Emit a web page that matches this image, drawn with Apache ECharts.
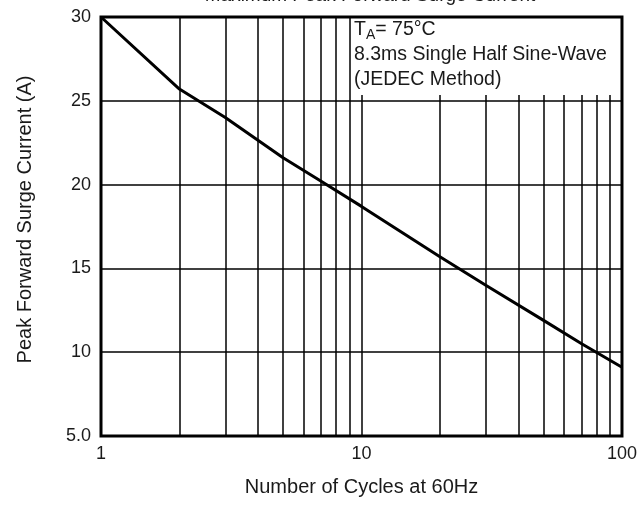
<!DOCTYPE html>
<html>
<head>
<meta charset="utf-8">
<title>Peak Forward Surge Current</title>
<script src="https://cdn.jsdelivr.net/npm/echarts@6/dist/echarts.min.js"></script>
<style>
  html, body { margin: 0; padding: 0; background: #fff; }
  #chart { width: 640px; height: 507px; }
</style>
</head>
<body>
<div id="chart"></div>
<script>
// Surge curve (cycles at 60Hz -> amps)
const cycles = [1, 2, 3, 5, 7, 10, 20, 30, 50, 70, 100];
const surgeAmps = [30, 25.7, 24.0, 21.6, 20.2, 18.7, 15.7, 14.0, 11.9, 10.5, 9.1];

// log grid lines (full height below 10, cut under the note box from 10 up)
const gridLinesLow = [2, 3, 4, 5, 6, 7, 8, 9];
const gridLinesHigh = [10, 20, 30, 40, 50, 60, 70, 80, 90];
const noteBoxBottom = 25.35;

const yTicks = [5, 10, 15, 20, 25, 30];
const yTickLabels = ["5.0", "10", "15", "20", "25", "30"];

const FONT = "Liberation Sans, Arial, Helvetica, sans-serif";
const INK = "#1a1a1a";

const chart = echarts.init(document.getElementById("chart"), null, { renderer: "canvas" });

const markLines = [];
gridLinesLow.forEach((x) => {
  markLines.push([{ coord: [x, 5] }, { coord: [x, 30] }]);
});
gridLinesHigh.forEach((x) => {
  markLines.push([{ coord: [x, 5] }, { coord: [x, noteBoxBottom] }]);
});

chart.setOption({
  animation: false,
  title: {
    text: "Maximum Peak Forward Surge Current",
    left: 365,
    textAlign: "center",
    top: -19,
    textStyle: { fontFamily: FONT, fontSize: 19, fontWeight: "normal", color: INK },
  },
  grid: {
    left: 101,
    right: 16,
    top: 17,
    bottom: 71,
    show: true,
    borderColor: "#000",
    borderWidth: 3,
    backgroundColor: "#fff",
  },
  xAxis: {
    type: "log",
    logBase: 10,
    min: 1,
    max: 100,
    name: "Number of Cycles at 60Hz",
    nameLocation: "middle",
    nameGap: 41,
    nameTextStyle: { fontFamily: FONT, fontSize: 20, color: INK },
    axisLine: { show: false },
    axisTick: { show: false },
    splitLine: { show: false },
    axisLabel: { fontFamily: FONT, fontSize: 18, color: INK, margin: 9 },
  },
  yAxis: {
    type: "value",
    min: 5,
    max: 30,
    interval: 5,
    name: "Peak Forward Surge Current (A)",
    nameLocation: "middle",
    nameGap: 66,
    nameTextStyle: { fontFamily: FONT, fontSize: 20, color: INK, padding: [0, 0, 0, 14] },
    axisLine: { show: false },
    axisTick: { show: false },
    axisLabel: {
      fontFamily: FONT,
      fontSize: 18,
      color: INK,
      margin: 10,
      formatter: (v) => yTickLabels[yTicks.indexOf(v)] ?? String(v),
    },
    splitLine: { show: true, lineStyle: { color: "#000", width: 1.5 } },
  },
  graphic: [
    {
      type: "text",
      left: 354,
      top: 20,
      style: {
        text: "{t|T}{s|A}{t|= 75°C}\n{t|8.3ms Single Half Sine-Wave}\n{t|(JEDEC Method)}",
        fill: INK,
        rich: {
          t: { fontFamily: FONT, fontSize: 19.5, lineHeight: 25, fill: INK },
          s: { fontFamily: FONT, fontSize: 14, lineHeight: 14, verticalAlign: "bottom", fill: INK },
        },
      },
    },
  ],
  series: [
    {
      type: "line",
      data: cycles.map((c, i) => [c, surgeAmps[i]]),
      symbol: "none",
      smooth: false,
      lineStyle: { color: "#000", width: 3 },
      z: 5,
      markLine: {
        silent: true,
        symbol: "none",
        label: { show: false },
        lineStyle: { color: "#000", width: 1.5, type: "solid" },
        data: markLines,
      },
    },
  ],
});
</script>
</body>
</html>
